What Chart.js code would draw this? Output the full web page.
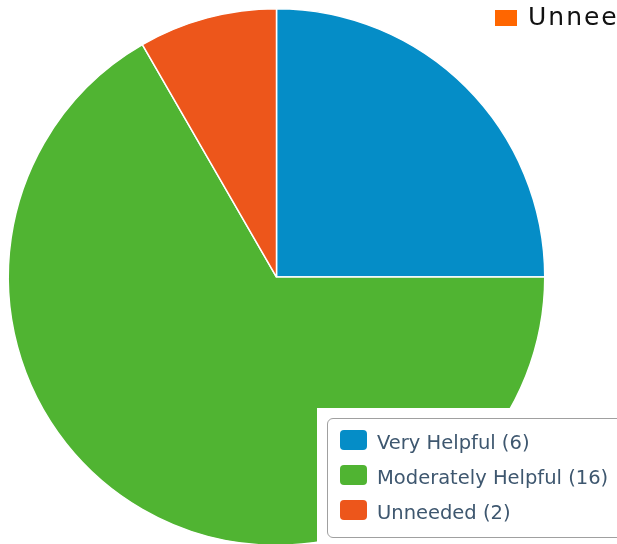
<!DOCTYPE html>
<html>
<head>
<meta charset="utf-8">
<script src="https://cdn.jsdelivr.net/npm/chart.js@4"></script>
<style>
    html, body { margin: 0; padding: 0; background: #fff; overflow: hidden; width: 617px; height: 544px; }
    #wrap { position: absolute; left: 0; top: 0; width: 617px; height: 600px; }
    #legend {
        position: absolute; left: 317px; top: 408px; width: 320px; height: 150px; background: #fff;
    }
    #legend .box {
        position: absolute; left: 10px; top: 10px; width: 320px; height: 120px;
        border: 1.5px solid #a0a0a0; border-radius: 6px; box-sizing: border-box;
    }
    #legend .sw {
        position: absolute; left: 23px; width: 27px; height: 20px; border-radius: 4px;
    }
    #legend .txt {
        position: absolute; left: 60px; line-height: 22px; white-space: nowrap;
        font-family: "DejaVu Sans", sans-serif; font-size: 19.5px; color: #3e576f;
    }
    #topLegend {
        position: absolute; left: 495px; top: 2px; white-space: nowrap;
        font-family: "DejaVu Sans", sans-serif; font-size: 25px; letter-spacing: 2px; color: #111;
    }
    #topLegend .sq { display: inline-block; width: 22px; height: 16px; background: #ff6600; margin-right: 11px; vertical-align: -1px; }
</style>
</head>
<body>
<div id="wrap"><canvas id="pieChart" width="617" height="600"></canvas></div>
<div id="topLegend"><span class="sq"></span>Unneeded</div>
<div id="legend"><div class="box"></div></div>
<script>
(function () {
    const categories = ["Very Helpful", "Moderately Helpful", "Unneeded"];
    const counts = [6, 16, 2];
    const colors = ["#058dc7", "#50b432", "#ed561b"];

    const ctx = document.getElementById('pieChart').getContext('2d');

    new Chart(ctx, {
        type: 'pie',
        data: {
            labels: categories,
            datasets: [{
                data: counts,
                backgroundColor: colors,
                borderColor: '#ffffff',
                borderWidth: 1.5
            }]
        },
        options: {
            responsive: false,
            animation: false,
            layout: { padding: { left: 7.5, top: 8, right: 71.5, bottom: 54 } },
            plugins: {
                legend: { display: false },
                tooltip: { enabled: false }
            }
        }
    });

    // html legend, bottom right
    const legend = document.getElementById('legend');
    categories.forEach((name, i) => {
        const sw = document.createElement('div');
        sw.className = 'sw';
        sw.style.top = (22 + i * 35) + 'px';
        sw.style.background = colors[i];
        legend.appendChild(sw);

        const txt = document.createElement('div');
        txt.className = 'txt';
        txt.style.top = (24 + i * 35) + 'px';
        txt.textContent = name + ' (' + counts[i] + ')';
        legend.appendChild(txt);
    });
})();
</script>
</body>
</html>
